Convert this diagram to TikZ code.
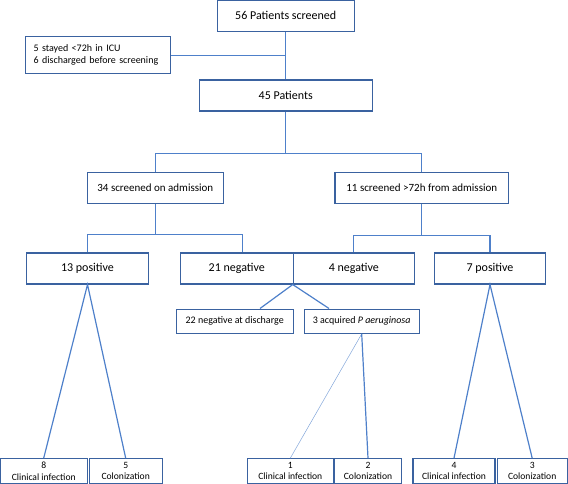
\documentclass[tikz,border=0pt]{standalone}
\usepackage{fontspec}
\setmainfont{Carlito}
\definecolor{boxline}{RGB}{58,98,160}
\definecolor{link}{RGB}{78,128,202}
\tikzset{
    box/.style={draw=boxline, line width=1.1pt, inner sep=0pt, align=center, font=\fontsize{12}{14}\selectfont},
    midbox/.style={box, font=\fontsize{11}{13}\selectfont},
    smallbox/.style={box, font=\fontsize{10}{12}\selectfont},
    leafbox/.style={box, minimum height=24.8, font=\fontsize{9.6}{11.6}\selectfont},
    conn/.style={draw=link, line width=1.2pt},
    thinconn/.style={draw=link!70, line width=0.5pt}
}
\begin{document}
\begin{tikzpicture}[x=1pt,y=-1pt]
    \useasboundingbox (0,0) rectangle (568,484);
    % top
    \node[box, minimum width=136.7, minimum height=31.3] (scr) at (285.7,15.7) {56 Patients screened};
    \node[smallbox, minimum width=145, minimum height=37.3, text width=128.2, align=left] (excl) at (97.8,55.3) {5 stayed <72h in ICU\\6 discharged before screening};
    \node[box, minimum width=173.3, minimum height=31] (pat45) at (285.7,95.5) {45 Patients};
    % screening
    \node[midbox, minimum width=136, minimum height=31] (adm) at (155.3,188) {34 screened on admission};
    \node[midbox, minimum width=173.7, minimum height=31] (late) at (421.8,188) {11 screened >72h from admission};
    % results
    \node[box, minimum width=121.6, minimum height=31] (pos13) at (87.5,268.5) {13 positive};
    \node[box, minimum width=113, minimum height=31] (neg21) at (236.8,268.5) {21 negative};
    \node[box, minimum width=121, minimum height=31] (neg4) at (353.8,268.5) {4 negative};
    \node[box, minimum width=111.4, minimum height=31] (pos7) at (490,268.5) {7 positive};
    \node[smallbox, minimum width=117.3, minimum height=24.3] (neg22) at (234.7,321.2) {22 negative at discharge};
    \node[smallbox, minimum width=115.3, minimum height=24.3] (acq3) at (361.7,321.2) {3 acquired \textit{P aeruginosa}};
    % outcomes
    \node[leafbox, minimum width=87.3] (ci8) at (43.7,471.1) {8\\Clinical infection};
    \node[leafbox, minimum width=72.7] (col5) at (125.7,471.1) {5\\Colonization};
    \node[leafbox, minimum width=86] (ci1) at (290.3,471.1) {1\\Clinical infection};
    \node[leafbox, minimum width=66.6] (col2) at (368,471.1) {2\\Colonization};
    \node[leafbox, minimum width=82] (ci4) at (454,471.1) {4\\Clinical infection};
    \node[leafbox, minimum width=70.3] (col3) at (532.2,471.1) {3\\Colonization};
    % connectors
    \coordinate (b1) at (285.7,153.7);
    \coordinate (b2) at (155.3,234.7);
    \coordinate (b3) at (421.8,235.3);
    \draw[conn] (scr.south) -- (pat45.north);
    \draw[conn] (excl.east) -- (excl.east -| scr.south);
    \draw[conn] (pat45.south) -- (b1);
    \draw[conn] (adm.north) |- (b1) -| (late.north);
    \draw[conn] (adm.south) -- (b2);
    \draw[conn] (pos13.north) |- (b2) -| ([xshift=5.5pt]neg21.north);
    \draw[conn] (late.south) -- (b3);
    \draw[conn] (neg4.north) |- (b3) -| (pos7.north);
    \draw[conn] ([xshift=25.3pt]neg22.north) -- (neg4.south west) -- ([xshift=-32.7pt]acq3.north);
    \draw[conn] (ci8.north) -- (pos13.south) -- (col5.north);
    \draw[thinconn] (acq3.south) -- (ci1.north);
    \draw[conn] (acq3.south) -- (col2.north);
    \draw[conn] (ci4.north) -- (pos7.south) -- (col3.north);
\end{tikzpicture}
\end{document}
